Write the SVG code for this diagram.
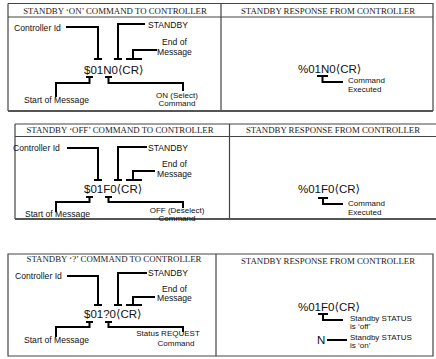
<svg xmlns="http://www.w3.org/2000/svg" width="436" height="359" viewBox="0 0 436 359">
<style>
.hd{font-family:"Liberation Serif","Times New Roman",serif;font-size:8.8px;fill:#222;text-anchor:middle}
.lb{font-family:"Liberation Sans",Arial,sans-serif;font-size:8.6px;fill:#111}
.sm{font-family:"Liberation Sans",Arial,sans-serif;font-size:8px;fill:#111}
.mid{text-anchor:middle}
.cmd{font-family:"Liberation Sans","DejaVu Sans",Arial,sans-serif;font-size:11.5px;fill:#111}
.box{fill:none;stroke:#444;stroke-width:1.2}
.thick{fill:none;stroke:#555;stroke-width:2}
.c{fill:none;stroke:#000;stroke-width:2}
</style>
<rect width="436" height="359" fill="#fff"/>

<g id="panel1">
<path class="box" d="M8,3.5 H433 V111 M8,3.5 V111 M8,17 H433 M221,3.5 V111"/>
<path class="thick" d="M8,111 H433"/>
<text class="hd" x="115" y="14">STANDBY ‘ON’ COMMAND TO CONTROLLER</text>
<text class="hd" x="328" y="14">STANDBY RESPONSE FROM CONTROLLER</text>
</g>
<g id="p1-controller-id"><text class="lb" x="14" y="30.5">Controller Id</text></g>
<g id="p1-standby"><text class="lb" x="148" y="28">STANDBY</text></g>
<g id="p1-end"><text class="lb" x="162" y="45">End of</text><text class="lb" x="157" y="55">Message</text></g>
<g id="p1-cmd"><text class="cmd" x="84" y="74">$01N0⟨CR⟩</text></g>
<g id="p1-start"><text class="lb" x="24" y="103">Start of Message</text></g>
<g id="p1-on"><text class="sm mid" x="177" y="97.5">ON (Select)</text><text class="sm mid" x="177" y="106">Command</text></g>
<g id="p1-resp"><text class="cmd" x="298" y="72.5">%01N0⟨CR⟩</text></g>
<g id="p1-exec"><text class="sm" x="348" y="83">Command</text><text class="sm" x="348" y="92">Executed</text></g>

<g id="panel2">
<path class="box" d="M15,124 H436 M15,124 V219 M15,136.5 H436 M229.5,124 V219"/>
<path class="thick" d="M15,219 H436"/>
<text class="hd" x="120" y="133">STANDBY ‘OFF’ COMMAND TO CONTROLLER</text>
<text class="hd" x="333" y="133">STANDBY RESPONSE FROM CONTROLLER</text>
</g>
<g id="p2-controller-id"><text class="lb" x="13" y="151">Controller Id</text></g>
<g id="p2-standby"><text class="lb" x="148" y="151">STANDBY</text></g>
<g id="p2-end"><text class="lb" x="162" y="167">End of</text><text class="lb" x="157" y="177">Message</text></g>
<g id="p2-cmd"><text class="cmd" x="84" y="193">$01F0⟨CR⟩</text></g>
<g id="p2-start"><text class="lb" x="25" y="217">Start of Message</text></g>
<g id="p2-off"><text class="sm mid" x="177" y="213">OFF (Deselect)</text><text class="sm mid" x="177" y="221">Command</text></g>
<g id="p2-resp"><text class="cmd" x="298" y="193">%01F0⟨CR⟩</text></g>
<g id="p2-exec"><text class="sm" x="348" y="206">Command</text><text class="sm" x="348" y="215">Executed</text></g>

<g id="panel3">
<path class="box" d="M8,254 H433 V356 H8 Z M216,254 V356"/>
<text class="hd" x="114" y="262">STANDBY ‘?’ COMMAND TO CONTROLLER</text>
<text class="hd" x="328" y="264">STANDBY RESPONSE FROM CONTROLLER</text>
</g>
<g id="p3-controller-id"><text class="lb" x="15" y="279">Controller Id</text></g>
<g id="p3-standby"><text class="lb" x="148" y="276">STANDBY</text></g>
<g id="p3-end"><text class="lb" x="162" y="292">End of</text><text class="lb" x="157" y="301">Message</text></g>
<g id="p3-cmd"><text class="cmd" x="84" y="318">$01?0⟨CR⟩</text></g>
<g id="p3-start"><text class="lb" x="24" y="343">Start of Message</text></g>
<g id="p3-req"><text class="sm mid" x="168" y="336">Status REQUEST</text><text class="sm mid" x="176" y="346">Command</text></g>
<g id="p3-resp"><text class="cmd" x="298" y="311">%01F0⟨CR⟩</text></g>
<g id="p3-off"><text class="sm" x="350" y="321">Standby STATUS</text><text class="sm" x="350" y="329">is ‘off’</text></g>
<g id="p3-n"><text class="cmd" x="317" y="344">N</text></g>
<g id="p3-on"><text class="sm" x="350" y="340">Standby STATUS</text><text class="sm" x="350" y="348">is ‘on’</text></g>

<g id="connectors">
<path class="c" d="M66,27 H98 V59 M94,59 H102"/>
<path class="c" d="M145,24 H118 V59 M114,59 H122"/>
<path class="c" d="M157,50 H133 V59 M126,59 H142"/>
<path class="c" d="M86,77 H93 M89.5,77 V83 H56 V97"/>
<path class="c" d="M105,77 H112 M108.5,77 V83 H183 V91"/>
<path class="c" d="M317,76 H328 M322.5,76 V82 H343"/>

<path class="c" d="M67,148 H98 V180 M94,180 H102"/>
<path class="c" d="M147,147 H118 V180 M114,180 H122"/>
<path class="c" d="M155,171 H133 V180 M126,180 H142"/>
<path class="c" d="M86,197 H93 M89.5,197 V202 H56 V212"/>
<path class="c" d="M105,197 H112 M108.5,197 V202 H183 V208"/>
<path class="c" d="M318,198 H328 M323,198 V204 H343"/>

<path class="c" d="M67,276 H98 V305 M94,305 H102"/>
<path class="c" d="M147,273 H118 V305 M114,305 H122"/>
<path class="c" d="M155,297 H133 V305 M126,305 H142"/>
<path class="c" d="M86,322 H93 M89.5,322 V327 H56 V337"/>
<path class="c" d="M105,322 H112 M108.5,322 V327 H183 V332"/>
<path class="c" d="M318,314 H328 M323,314 V320 H343"/>
<path class="c" d="M327,340 H347"/>
</g>
</svg>
